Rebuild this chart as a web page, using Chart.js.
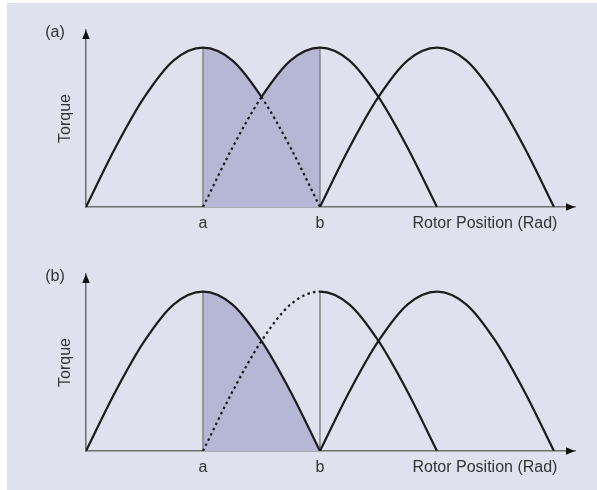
<!DOCTYPE html>
<html>
<head>
<meta charset="utf-8">
<script src="https://cdn.jsdelivr.net/npm/chart.js@4.4.1/dist/chart.umd.min.js"></script>
<style>
  html, body { margin: 0; padding: 0; background: #ffffff; }
  #frame { position: absolute; left: 7px; top: 3px; width: 590px; height: 487px; background: #dfe2ee; }
  canvas { position: absolute; left: 0; }
  #panelA { top: 0; }
  #panelB { top: 244px; }
</style>
</head>
<body>
<div id="frame"></div>
<canvas id="panelA" width="597" height="245"></canvas>
<canvas id="panelB" width="597" height="245"></canvas>
<script>
// rotor position (units of a-spacing) and torque of the three phases
const rotorPos = [0, 0.25, 0.5, 0.75, 1, 1.25, 1.5, 1.75, 2, 2.25, 2.5, 2.75, 3, 3.25, 3.5, 3.75, 4];
const phase1 = [0, 0.37, 0.69, 0.92, 1, 0.92, 0.69, 0.37, 0, null, null, null, null, null, null, null, null];
const phase2 = [null, null, null, null, 0, 0.37, 0.69, 0.92, 1, 0.92, 0.69, 0.37, 0, null, null, null, null];
const phase3 = [null, null, null, null, null, null, null, null, 0, 0.37, 0.69, 0.92, 1, 0.92, 0.69, 0.37, 0];

// switching positions a and b
const markPos = [1, 2];
const markLabels = ['a', 'b'];
const markTop = [1, 1];
const xTitle = 'Rotor Position (Rad)';
const xTitlePos = 3.41;
const xMax = 4.18;
const yMax = 1.11;

// per panel: dotted range of each phase curve, and which phases fill the a-b window
const dashedA = [[1.5, 2], [1, 1.5], null];
const dashedB = [null, [1, 2], null];
const shadedA = [phase1, phase2];
const shadedB = [phase1];

const FONT = "'Liberation Sans', Arial, sans-serif";
const TEXT = '#333333';
const AXIS = '#6f6f6f';
const SHADE = '#b5b7d4';
const LINE = '#1c1c1c';
const CLEAR = 'rgba(0,0,0,0)';

function inRange(ctx, range) {
  if (!range) return false;
  return ctx.p0.parsed.x >= range[0] - 1e-6 && ctx.p1.parsed.x <= range[1] + 1e-6;
}

function curve(values, dashed) {
  return {
    data: values,
    borderColor: LINE,
    borderWidth: 2.2,
    fill: false,
    cubicInterpolationMode: 'monotone',
    pointRadius: 0,
    order: 1,
    segment: {
      borderDash: ctx => inRange(ctx, dashed) ? [2.5, 3.3] : undefined
    }
  };
}

// area under a phase curve, only between a and b
function shade(values) {
  return {
    data: values,
    borderColor: CLEAR,
    borderWidth: 0,
    backgroundColor: CLEAR,
    fill: 'origin',
    cubicInterpolationMode: 'monotone',
    pointRadius: 0,
    order: 3,
    segment: {
      backgroundColor: ctx => inRange(ctx, markPos) ? SHADE : CLEAR
    }
  };
}

function marker(i) {
  return {
    data: [{x: markPos[i], y: 0}, {x: markPos[i], y: markTop[i]}],
    borderColor: '#858585',
    borderWidth: 1.5,
    pointRadius: 0,
    fill: false,
    order: 2
  };
}

const arrowPlugin = {
  id: 'axisArrows',
  afterDraw(chart, args, opts) {
    const {ctx, chartArea} = chart;
    ctx.save();
    ctx.fillStyle = '#111111';
    // x arrow
    ctx.beginPath();
    ctx.moveTo(chartArea.right, chartArea.bottom);
    ctx.lineTo(chartArea.right - 9, chartArea.bottom - 3.8);
    ctx.lineTo(chartArea.right - 9, chartArea.bottom + 3.8);
    ctx.closePath();
    ctx.fill();
    // y arrow
    ctx.beginPath();
    ctx.moveTo(chartArea.left, chartArea.top);
    ctx.lineTo(chartArea.left - 3.8, chartArea.top + 9);
    ctx.lineTo(chartArea.left + 3.8, chartArea.top + 9);
    ctx.closePath();
    ctx.fill();
    // panel tag
    ctx.fillStyle = TEXT;
    ctx.font = '16px ' + FONT;
    ctx.textAlign = 'center';
    ctx.textBaseline = 'middle';
    ctx.fillText(opts.text, chartArea.left - 31, chartArea.top + 2.5);
    ctx.restore();
  }
};

function makePanel(id, tag, dashed, shaded) {
  const phases = [phase1, phase2, phase3];
  const datasets = phases.map((p, i) => curve(p, dashed[i]));
  shaded.forEach(p => datasets.push(shade(p)));
  datasets.push(marker(0), marker(1));

  new Chart(document.getElementById(id), {
    type: 'line',
    data: { labels: rotorPos, datasets: datasets },
    plugins: [arrowPlugin],
    options: {
      responsive: false,
      animation: false,
      layout: { padding: { top: 30, right: 22, left: 0, bottom: 0 } },
      plugins: {
        legend: { display: false },
        tooltip: { enabled: false },
        filler: { drawTime: 'beforeDatasetsDraw' },
        axisArrows: { text: tag }
      },
      scales: {
        x: {
          type: 'linear',
          min: 0,
          max: xMax,
          grid: { display: false, drawTicks: false },
          border: { display: true, color: AXIS, width: 1.5 },
          afterBuildTicks: axis => {
            axis.ticks = markPos.concat([xTitlePos]).map(v => ({ value: v }));
          },
          afterFit: axis => { axis.height = 38; },
          ticks: {
            autoSkip: false,
            maxRotation: 0,
            padding: 7,
            color: TEXT,
            font: { family: FONT, size: 16 },
            callback: (value, i) => i < markLabels.length ? markLabels[i] : xTitle
          }
        },
        y: {
          min: 0,
          max: yMax,
          grid: { display: false, drawTicks: false },
          border: { display: true, color: AXIS, width: 1.5 },
          ticks: { display: false },
          afterFit: axis => { axis.width = 86; },
          title: {
            display: true,
            text: 'Torque',
            color: TEXT,
            font: { family: FONT, size: 16 },
            padding: { top: 56, bottom: 0 }
          }
        }
      }
    }
  });
}

makePanel('panelA', '(a)', dashedA, shadedA);
makePanel('panelB', '(b)', dashedB, shadedB);
</script>
</body>
</html>
